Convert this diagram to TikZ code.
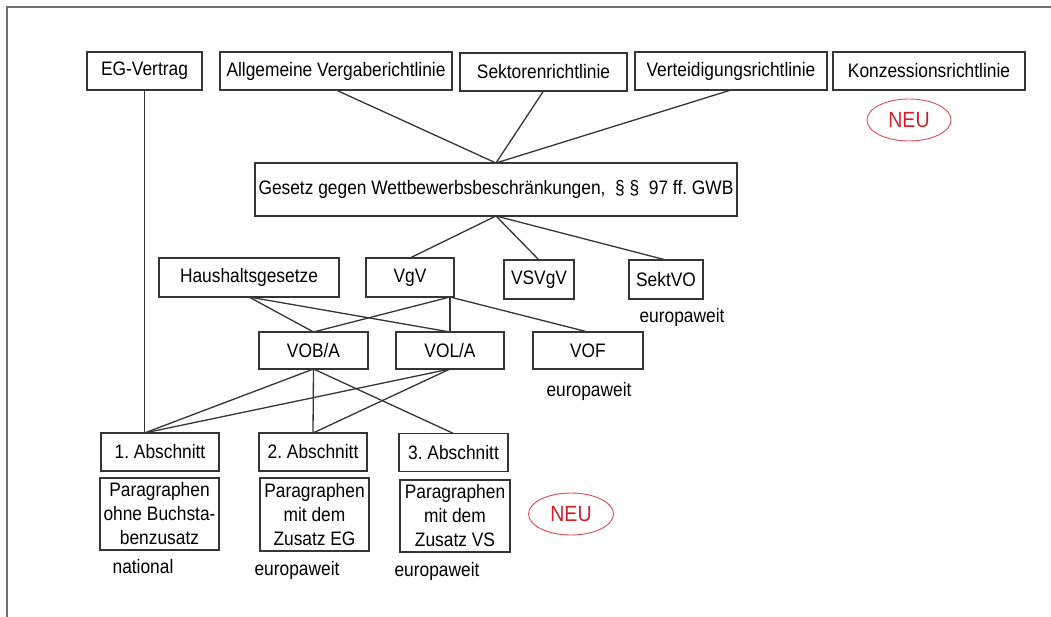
\documentclass[tikz,border=0pt]{standalone}
\usepackage{fontspec}
\setmainfont{Liberation Sans}[FakeStretch=0.89]
\usetikzlibrary{shapes.geometric}
\frenchspacing

\definecolor{boxline}{HTML}{353535}
\definecolor{frameline}{HTML}{707070}
\definecolor{neured}{HTML}{D0202C}

\tikzset{
  box/.style={draw=boxline, line width=1.3pt, inner sep=0pt, outer sep=0pt,
    minimum height=38pt, align=center},
  link/.style={draw=boxline, line width=1.3pt},
  neu/.style={ellipse, draw=neured!80, line width=0.9pt, text=neured,
    font=\fontsize{22}{24}\selectfont,
    minimum width=84pt, minimum height=42pt, inner sep=0pt},
  note/.style={inner sep=0pt}
}

\begin{document}
\begin{tikzpicture}[x=1pt, y=-1pt, font=\fontsize{19.5}{24}\selectfont]
        % \draw[help lines] (0,0) grid (1051,617);
        \useasboundingbox (0,0) rectangle (1051,617);
        \draw[frameline, line width=1.6pt] (7,617) -- (7,7) -- (1051,7);

        \node[box, minimum width=115pt] at (144.5,71) (egv) {EG-Vertrag};
        \node[box, minimum width=232pt] at (336,71) (avr) {Allgemeine Vergaberichtlinie};
        \node[box, minimum width=167pt] at (543.5,72) (sek) {Sektorenrichtlinie};
        \node[box, minimum width=192pt] at (731,71) (vert) {Verteidigungsrichtlinie};
        \node[box, minimum width=192pt] at (929,71) (konz) {Konzessionsrichtlinie};
        \node[neu] at (909,120) (neu1) {NEU};

        \node[box, minimum width=482pt, minimum height=53pt] at (496,189.5) (gwb)
            {Gesetz gegen Wettbewerbsbeschränkungen,~~§~§~~97~ff.~GWB};

        \node[box, minimum width=180pt, minimum height=39pt] at (249,277.5) (haus) {Haushaltsgesetze};
        \node[box, minimum width=88pt, minimum height=39pt] at (410,277.5) (vgv) {VgV};
        \node[box, minimum width=70pt, minimum height=39pt] at (539,279.5) (vsvgv) {VSVgV};
        \node[box, minimum width=74pt, minimum height=39pt] at (666,279.5) (sekt) {SektVO};
        \node[note] at (682,317) (eusekt) {europaweit};

        \node[box, minimum width=109pt, minimum height=37pt] at (313.5,350.5) (vob) {VOB/A};
        \node[box, minimum width=108pt, minimum height=37pt] at (450,350.5) (vol) {VOL/A};
        \node[box, minimum width=110pt, minimum height=37pt] at (588,350.5) (vof) {VOF};
        \node[note] at (589,391) (euvof) {europaweit};

        \node[box, minimum width=118pt] at (160,452) (ab1) {1. Abschnitt};
        \node[box, minimum width=108pt] at (313,452) (ab2) {2. Abschnitt};
        \node[box, minimum width=109pt] at (453.5,452.5) (ab3) {3. Abschnitt};

        \node[box, minimum width=119pt, minimum height=72pt] at (159.5,514) (par1)
            {Paragraphen\\ohne Buchsta-\\benzusatz};
        \node[box, minimum width=109pt, minimum height=73pt] at (314.5,514.5) (par2)
            {Paragraphen\\mit dem\\Zusatz EG};
        \node[box, minimum width=110pt, minimum height=72pt] at (455,516) (par3)
            {Paragraphen\\mit dem\\Zusatz VS};
        \node[neu, minimum width=85pt] at (571,514) (neu2) {NEU};

        \node[note] at (143,567) (nat) {national};
        \node[note] at (297,570) (eu2) {europaweit};
        \node[note] at (437,571) (eu3) {europaweit};

        \coordinate (vgvout) at (vgv.south -| vol.north);
        \coordinate (ab1in) at (egv.south |- ab1.north);

        \path[link]
        (egv.south) edge (ab1in)

        (avr.south) edge (gwb.north)
        (sek.south) edge (gwb.north)
        (vert.south) edge (gwb.north)

        (gwb.south) edge (vgv.north)
        (gwb.south) edge (vsvgv.north)
        (gwb.south) edge (sekt.north)

        (haus.south) edge (vob.north)
        (haus.south) edge (vol.north)

        (vgvout) edge (vob.north)
        (vgvout) edge (vol.north)
        (vgvout) edge (vof.north)

        (vob.south) edge (ab1in)
        (vob.south) edge (ab2.north)
        (vob.south) edge (ab3.north)

        (vol.south) edge (ab1in)
        (vol.south) edge (ab2.north);

\end{tikzpicture}
\end{document}
